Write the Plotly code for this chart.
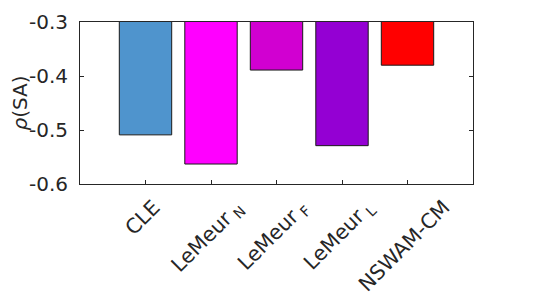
import plotly.graph_objects as go

categories = ["CLE", "LeMeur<sub> N</sub>", "LeMeur<sub> F</sub>", "LeMeur<sub> L</sub>", "NSWAM-CM"]
positions = [1, 2, 3, 4, 5]
values = [-0.509, -0.563, -0.389, -0.529, -0.380]
colors = ["#4F94CD", "#FF00FF", "#D100D1", "#9400D3", "#FF0000"]
y_ticks = [-0.6, -0.5, -0.4, -0.3]
y_tick_text = ["-0.6", "-0.5", "-0.4", "-0.3"]

fig = go.Figure(go.Bar(
    x=positions, y=values, width=0.8,
    marker=dict(color=colors, line=dict(color="#1a1a1a", width=1)),
))

font = "DejaVu Sans"
txt_color = "#262626"
fig.update_layout(
    width=542, height=289,
    margin=dict(l=72, r=77, t=14, b=113, autoexpand=False),
    paper_bgcolor="white", plot_bgcolor="white",
    showlegend=False,
    font=dict(family=font, size=18, color=txt_color),
)
for pos, label in zip(positions, categories):
    fig.add_annotation(
        x=pos, y=0, xref="x", yref="paper", text=label, showarrow=False,
        textangle=-45, xanchor="center", yanchor="top",
        xshift=-3.5, yshift=-10, borderpad=0,
        font=dict(family=font, size=20.5, color=txt_color),
    )
fig.update_xaxes(
    range=[0, 6], tickmode="array", tickvals=positions, showticklabels=False,
    ticks="inside", ticklen=4, tickcolor=txt_color,
    showline=True, linecolor=txt_color, linewidth=1, mirror=True,
    showgrid=False, zeroline=False, automargin=False,
)
fig.update_yaxes(
    range=[-0.6, -0.3], tickmode="array", tickvals=y_ticks, ticktext=y_tick_text,
    ticks="inside", ticklen=4, tickcolor=txt_color, ticklabelstandoff=7,
    showline=True, linecolor=txt_color, linewidth=1, mirror="ticks",
    showgrid=False, zeroline=False, tickfont=dict(size=20), automargin=False,
    title=dict(text="<i>ρ</i>(SA)", font=dict(size=20), standoff=8),
)
fig.write_html("out.html")
